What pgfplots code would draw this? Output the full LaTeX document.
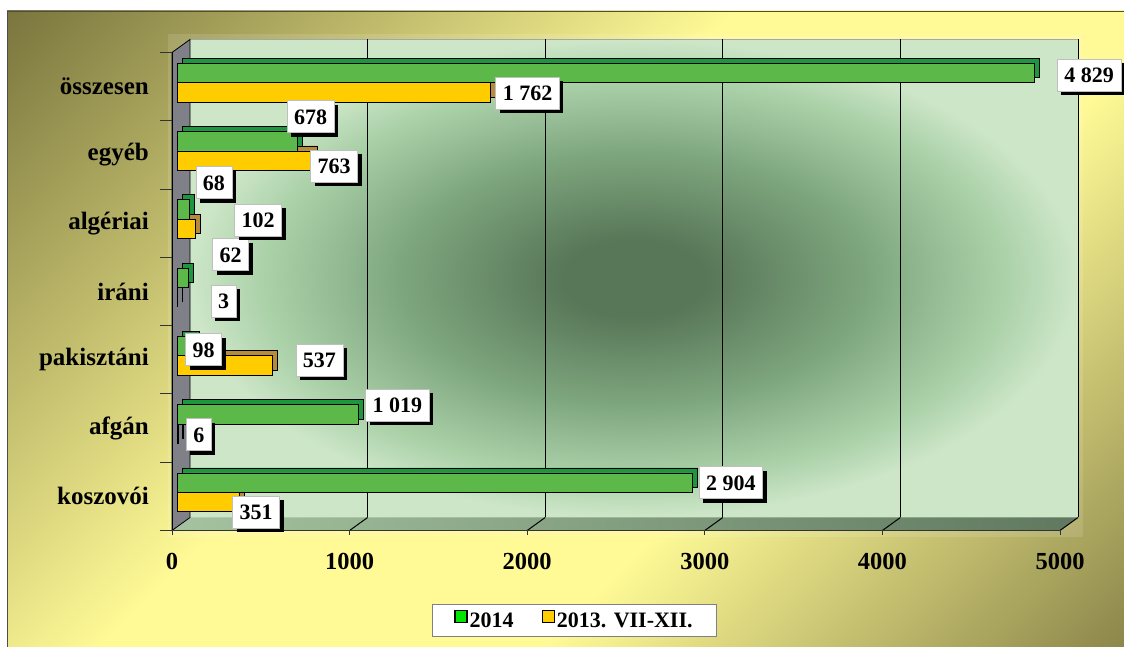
\documentclass[border=0pt]{standalone}
\usepackage{pgfplots}
\pgfplotsset{compat=1.18}
\usepackage{pgfplotstable}
\usepackage{fontspec}
\setmainfont{Liberation Serif}
\usetikzlibrary{shadows}

\definecolor{bgolive}{RGB}{122,118,62}
\definecolor{bgolive2}{RGB}{140,135,75}
\definecolor{bgyellow}{RGB}{255,250,150}
\definecolor{wallc}{RGB}{88,118,88}
\definecolor{wallm}{RGB}{125,165,125}
\definecolor{walln}{RGB}{172,210,170}
\definecolor{walle}{RGB}{205,230,200}
\definecolor{floorl}{RGB}{165,195,160}
\definecolor{floorm}{RGB}{95,120,95}
\definecolor{gfront}{RGB}{92,184,72}
\definecolor{gtop}{RGB}{30,150,62}
\definecolor{yfront}{RGB}{255,204,0}
\definecolor{yside}{RGB}{180,140,60}
\definecolor{lgreen}{RGB}{0,230,0}
\definecolor{wallgray}{RGB}{128,128,136}

\pgfdeclareverticalshading{bgdiag}{100bp}{color(0bp)=(bgolive2); color(14.6bp)=(bgolive2); color(38bp)=(bgyellow); color(56bp)=(bgyellow); color(85.4bp)=(bgolive); color(100bp)=(bgolive)}
\pgfdeclareradialshading{wallshade}{\pgfpoint{0bp}{0bp}}{color(0bp)=(wallc); color(4bp)=(wallc); color(13bp)=(wallm); color(21bp)=(walln); color(25bp)=(walle); color(50bp)=(walle)}

\newcommand\catfont{\bfseries\fontsize{25bp}{30bp}\selectfont}
\newcommand\tickfont{\bfseries\fontsize{24.5bp}{29bp}\selectfont}
\newcommand\labfont{\bfseries\fontsize{22bp}{26bp}\selectfont}
\newcommand\legfont{\bfseries\fontsize{22bp}{26bp}\selectfont}

\pgfplotstableread{
y x dx dy
0 2904 38.2 9.7
1 1019 39.5 19.2
2 98 9.1 6.2
3 62 42.5 32.7
4 68 24.9 36.7
5 678 13.1 34.2
6 4829 54.4 7.2
}\tabgreen
\pgfplotstableread{
y x dx dy
0 351 16.7 -19.7
1 6 20.9 -10.7
2 537 47.1 -4.7
3 3 46 -13.7
4 102 62.9 -0.7
5 763 21.5 -15.2
6 1762 37.6 -10.7
}\tabyellow

\pgfplotsset{
  labelbars/.style={
    xbar, bar width=19.4bp, draw=none, fill=none, forget plot,
    point meta=x,
    visualization depends on={\thisrow{dx}\as\labdx},
    visualization depends on={\thisrow{dy}\as\labdy},
    nodes near coords={\pgfmathprintnumber[assume math mode=true,1000 sep={\ }]{\pgfplotspointmeta}},
    every node near coord/.append style={anchor=center, xshift=\labdx bp, yshift=\labdy bp,
      fill=white, draw=gray!50, line width=0.6bp, inner xsep=7bp, inner ysep=8.5bp,
      text height=15bp, text depth=0bp, font=\labfont, text=black,
      drop shadow={shadow xshift=4bp, shadow yshift=-4bp, fill=black, opacity=1}},
  },
}

\begin{document}
\begin{tikzpicture}[x=1bp,y=1bp]
\useasboundingbox (0,0) rectangle (1124,647);
\fill[white] (0,0) rectangle (1124,647);
\shade[shading=bgdiag, shading angle=45] (7,0) rectangle (1124,636);
\draw[gray!60!black, line width=0.8bp] (7,0) -- (7,636) -- (1124,636);
\fill[white, opacity=0.12] (168,110) rectangle (1083,613);

\begin{axis}[
  at={(177bp,120.5bp)}, anchor=south west,
  width=888bp, height=478bp, scale only axis,
  xmin=0, xmax=5000, ymin=-0.5, ymax=6.5,
  clip=false,
  axis line style={draw=none},
  major tick length=0pt,
  /pgf/number format/assume math mode=true,
  /pgf/number format/1000 sep={},
  xtick={0,1000,2000,3000,4000,5000},
  xticklabel style={font=\tickfont, anchor=center, inner sep=0pt, xshift=-5bp, yshift=-34.5bp},
  ytick={0,1,2,3,4,5,6},
  yticklabels={koszovói,afgán,pakisztáni,iráni,algériai,egyéb,összesen},
  yticklabel style={font=\catfont, anchor=east, inner sep=0pt, xshift=-28bp, yshift=-4bp},
  legend columns=2,
  legend style={at={(axis description cs:0.4476,-0.1967)}, anchor=center,
    draw=gray, line width=0.8bp, fill=white, font=\legfont,
    inner xsep=22bp, inner ysep=5bp,
    /tikz/every even column/.append style={column sep=26bp}},
]
% back wall
\shade[shading=wallshade] ([xshift=13bp,yshift=9bp]axis cs:0,-0.5) rectangle ([xshift=13bp,yshift=9bp]axis cs:5000,6.5);
\draw[gray!70, line width=0.8bp] ([xshift=13bp,yshift=9bp]axis cs:0,6.5) -- ([xshift=13bp,yshift=9bp]axis cs:5000,6.5);
\pgfplotsinvokeforeach{1000,2000,3000,4000,5000}{
  \draw[black, line width=1bp] ([xshift=13bp,yshift=9bp]axis cs:#1,-0.5) -- ([xshift=13bp,yshift=9bp]axis cs:#1,6.5);
}
% floor
\shade[left color=floorl, right color=floorm] ([xshift=-5bp,yshift=-4bp]axis cs:0,-0.5) -- ([xshift=-5bp,yshift=-4bp]axis cs:5000,-0.5) -- ([xshift=13bp,yshift=9bp]axis cs:5000,-0.5) -- ([xshift=13bp,yshift=9bp]axis cs:0,-0.5) -- cycle;
\pgfplotsinvokeforeach{1000,2000,3000,4000,5000}{
  \draw[black, line width=1bp] ([xshift=-5bp,yshift=-4bp]axis cs:#1,-0.5) -- ([xshift=13bp,yshift=9bp]axis cs:#1,-0.5);
}
% left wall
\fill[wallgray, draw=black, line width=0.8bp] ([xshift=-5bp,yshift=-4bp]axis cs:0,-0.5) -- ([xshift=-5bp,yshift=-4bp]axis cs:0,6.5) -- ([xshift=13bp,yshift=9bp]axis cs:0,6.5) -- ([xshift=13bp,yshift=9bp]axis cs:0,-0.5) -- cycle;
% front axis lines and ticks
\draw[black, line width=1bp] ([xshift=-5bp,yshift=-4bp]axis cs:0,-0.5) -- ([xshift=-5bp,yshift=-4bp]axis cs:0,6.5);
\draw[gray!40!black, line width=1bp] ([xshift=-5bp,yshift=-4bp]axis cs:0,-0.5) -- ([xshift=-5bp,yshift=-4bp]axis cs:5000,-0.5);
\pgfplotsinvokeforeach{-0.5,0.5,1.5,2.5,3.5,4.5,5.5,6.5}{
  \draw[gray!40!black, line width=1bp] ([xshift=-5bp,yshift=-4bp]axis cs:0,#1) -- ([xshift=-17bp,yshift=-4bp]axis cs:0,#1);
}
\pgfplotsinvokeforeach{0,1000,2000,3000,4000,5000}{
  \draw[gray!40!black, line width=1bp] ([xshift=-5bp,yshift=-4bp]axis cs:#1,-0.5) -- ([xshift=-5bp,yshift=-9bp]axis cs:#1,-0.5);
}
% bar extrusions
\addplot[xbar, bar width=19.4bp, bar shift=9.7bp, fill=gtop, draw=black, line width=0.8bp, xshift=5bp, yshift=5bp, forget plot] table[x=x,y=y]{\tabgreen};
\addplot[xbar, bar width=19.4bp, bar shift=-9.7bp, fill=yside, draw=black, line width=0.8bp, xshift=5bp, yshift=5bp, forget plot] table[x=x,y=y]{\tabyellow};
% bar fronts
\addplot[xbar, bar width=19.4bp, bar shift=9.7bp, fill=gfront, draw=black, line width=0.8bp,
  legend image code/.code={\draw[fill=lgreen,draw=black,line width=1.3bp] (0bp,-1bp) rectangle (12bp,11bp);}] table[x=x,y=y]{\tabgreen};
\addlegendentry{2014}
\addplot[xbar, bar width=19.4bp, bar shift=-9.7bp, fill=yfront, draw=black, line width=0.8bp,
  legend image code/.code={\draw[fill=yfront,draw=black,line width=1.3bp] (0bp,-1bp) rectangle (12bp,11bp);}] table[x=x,y=y]{\tabyellow};
\addlegendentry{2013. VII-XII.}
% data labels
\addplot[labelbars, bar shift=9.7bp] table[x=x,y=y]{\tabgreen};
\addplot[labelbars, bar shift=-9.7bp] table[x=x,y=y]{\tabyellow};
\end{axis}
\end{tikzpicture}
\end{document}
